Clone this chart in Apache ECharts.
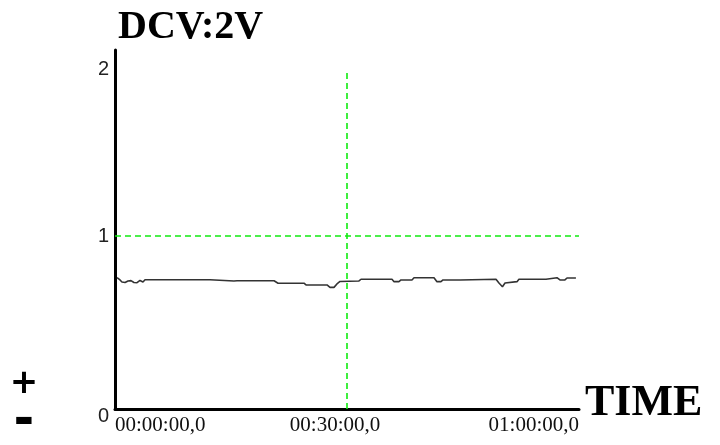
<!DOCTYPE html>
<html>
<head>
<meta charset="utf-8">
<script src="https://cdn.jsdelivr.net/npm/echarts@6/dist/echarts.min.js"></script>
<style>
  html, body { margin: 0; padding: 0; background: #fff; }
  #chart { width: 720px; height: 445px; }
</style>
</head>
<body>
<div id="chart"></div>
<script>
// Recorded DC voltage trace (2 V range) over one hour.
// Elapsed time in seconds.
const timeSec = [16, 39, 54, 78, 101, 124, 147, 171, 194, 217, 233, 737, 745, 923, 935, 947,
  1234, 1245, 1265, 1466, 1482, 1497, 1645, 1668, 1699, 1722, 1746, 1893, 1909, 2149, 2165,
  2203, 2219, 2304, 2320, 2475, 2498, 2529, 2545, 2677, 2692, 2956, 2979, 3006, 3026, 3041,
  3119, 3134, 3344, 3359, 3429, 3452, 3491, 3507, 3522, 3538, 3576];
// Measured voltage (V).
const voltage = [0.759, 0.746, 0.734, 0.731, 0.740, 0.742, 0.731, 0.730, 0.743, 0.734, 0.747,
  0.747, 0.740, 0.740, 0.732, 0.741, 0.741, 0.732, 0.727, 0.727, 0.717, 0.717, 0.717, 0.703,
  0.703, 0.723, 0.737, 0.740, 0.750, 0.750, 0.736, 0.736, 0.746, 0.746, 0.759, 0.759, 0.736,
  0.736, 0.746, 0.746, 0.750, 0.750, 0.728, 0.707, 0.728, 0.736, 0.736, 0.750, 0.750, 0.759,
  0.759, 0.746, 0.746, 0.757, 0.749, 0.757, 0.757];

const xTickValues = [0, 1800, 3600];
const xTickLabels = ['00:00:00,0', '00:30:00,0', '01:00:00,0'];
const yTickValues = [0, 1, 2];
const yTickLabels = ['0', '1', '2'];

const cursorTime = 1800;   // vertical reference (30 min)
const cursorTop = 1.96;    // top end of the vertical reference
const refLevel = 1;        // horizontal reference level (V)

const chart = echarts.init(document.getElementById('chart'), null, { renderer: 'canvas' });

const GREEN = '#10ec10';
const serif = '"Liberation Serif", "Times New Roman", serif';
const sans = '"Liberation Sans", Arial, sans-serif';

chart.setOption({
  animation: false,
  backgroundColor: '#ffffff',
  grid: { left: 115, right: 141, top: 50, bottom: 36, containLabel: false },
  xAxis: {
    type: 'value',
    min: 0,
    max: 3600,
    axisLine: { show: true, lineStyle: { color: '#000', width: 3 } },
    axisTick: { show: false },
    splitLine: { show: false },
    axisLabel: {
      customValues: xTickValues,
      margin: 6,
      color: '#111',
      fontFamily: serif,
      fontSize: 21,
      alignMinLabel: 'left',
      alignMaxLabel: 'right',
      formatter: function (v) {
        const i = xTickValues.indexOf(v);
        const t = i >= 0 ? xTickLabels[i] : '';
        return (i === 1) ? '{mid|' + t + '}' : t;
      },
      rich: {
        mid: { fontFamily: serif, fontSize: 21, color: '#111', padding: [0, 24, 0, 0] }
      }
    }
  },
  yAxis: {
    type: 'value',
    min: 0,
    max: 2.075,
    axisLine: { show: true, lineStyle: { color: '#000', width: 3 } },
    axisTick: { show: false },
    splitLine: { show: false },
    axisLabel: {
      customValues: yTickValues,
      margin: 6,
      color: '#222',
      fontFamily: sans,
      fontSize: 20,
      formatter: function (v) {
        const i = yTickValues.indexOf(v);
        const t = i >= 0 ? yTickLabels[i] : '';
        return (v === 1) ? t : '{lo|' + t + '}';
      },
      rich: {
        lo: { fontFamily: sans, fontSize: 20, color: '#222', padding: [14, 0, 0, 0] }
      }
    }
  },
  series: [{
    type: 'line',
    data: timeSec.map((t, i) => [t, voltage[i]]),
    showSymbol: false,
    lineStyle: { color: '#333', width: 1.6 },
    markLine: {
      silent: true,
      symbol: 'none',
      label: { show: false },
      lineStyle: { color: GREEN, width: 1.6, type: [6, 4] },
      data: [
        { yAxis: refLevel },
        [{ coord: [cursorTime, 0] }, { coord: [cursorTime, cursorTop] }]
      ]
    }
  }],
  graphic: [
    {
      type: 'text', left: 118, top: 8,
      style: { text: 'DCV:2V', font: 'bold 40px ' + serif, fill: '#000' }
    },
    {
      type: 'text', x: 585, y: 404,
      style: { text: 'TIME', font: 'bold 44px ' + serif, fill: '#000', align: 'left', verticalAlign: 'middle' }
    },
    {
      type: 'text', x: 24, y: 384,
      style: { text: '+', font: 'bold 34px "DejaVu Sans", sans-serif', fill: '#000', align: 'center', verticalAlign: 'middle' }
    },
    {
      type: 'text', x: 24, y: 422,
      style: { text: '-', font: 'bold 50px "DejaVu Sans", sans-serif', fill: '#000', align: 'center', verticalAlign: 'middle' }
    }
  ]
});
</script>
</body>
</html>
